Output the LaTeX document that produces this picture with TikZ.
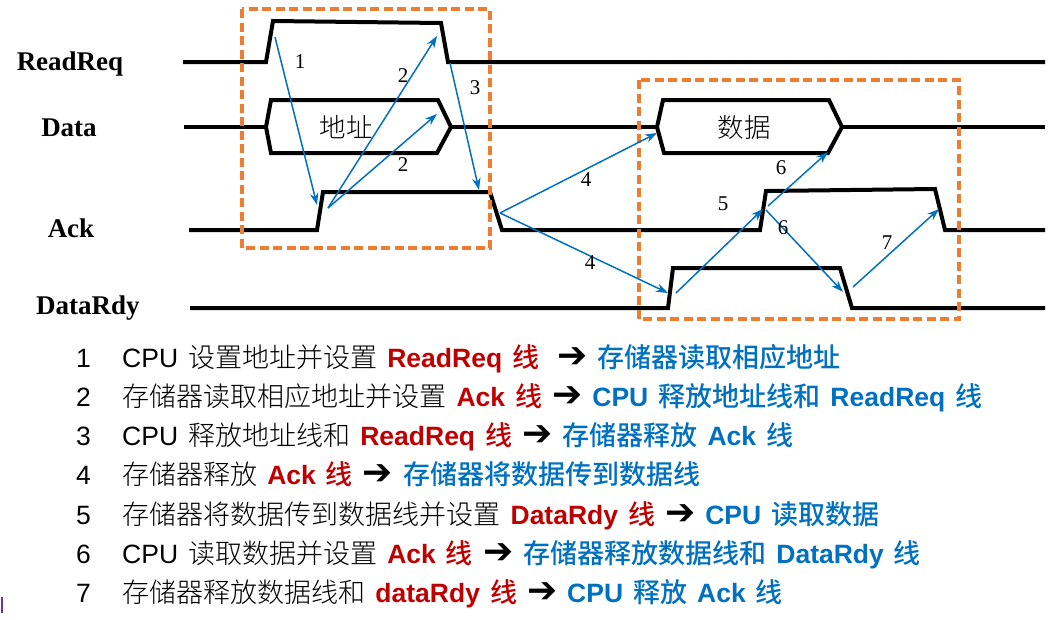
\documentclass[tikz,border=0pt]{standalone}
\usepackage{fontspec}
\usepackage{xcolor}
\usepackage{tikz}
\usetikzlibrary{arrows.meta}

\setmainfont{Liberation Serif}
\newfontfamily\sansf{Liberation Sans}
\newfontfamily\cjkf[Scale=1.02, UprightFont=* Light, BoldFont=* Medium]{Noto Sans CJK SC}
\newfontfamily\symf{DejaVu Sans}

\definecolor{arrowblue}{HTML}{0070C0}
\definecolor{txtred}{HTML}{C00000}
\definecolor{boxorange}{HTML}{ED7D31}
\definecolor{barpurple}{HTML}{7030A0}

\newcommand{\zh}[1]{{\cjkf #1}}
\newcommand{\hl}[2]{{\color{#1}\bfseries #2}}
\newcommand{\rarrow}{{\symf\mdseries\color{black}\fontsize{36}{36}\selectfont ➔}}
\newcommand{\widespaces}{\spaceskip 10pt\relax}

\begin{document}
\begin{tikzpicture}[x=1pt, y=-1pt]

\tikzstyle{wave} = [line width=4pt];
\tikzstyle{arrow} = [-{Stealth[length=12pt,width=8.5pt]}, line width=1.5pt, color=arrowblue];
\tikzstyle{box} = [draw=boxorange, line width=3.5pt, dash pattern=on 9pt off 4.5pt];
\tikzstyle{signal} = [anchor=base, inner sep=0, font=\bfseries\fontsize{27}{30}\selectfont];
\tikzstyle{num} = [inner sep=0, font=\fontsize{21}{24}\selectfont];
\tikzstyle{textline} = [anchor=base west, inner sep=0, font={\sansf\fontsize{26.5}{30}\selectfont\widespaces}];

\useasboundingbox (0,0) rectangle (1061,619);

% signal names
\node(lReadReq) [signal] at (70,70) {ReadReq};
\node(lData) [signal] at (69,136) {Data};
\node(lAck) [signal] at (71,237) {Ack};
\node(lDataRdy) [signal] at (88,314) {DataRdy};

% waveforms
\draw[wave] (183,62) -- (266,62) -- (273,21) -- (441,23) -- (448,62) -- (1045,62);
\draw[wave] (184,127) -- (266,127);
\draw[wave] (266,127) -- (271,100) -- (438,100) -- (451,127) -- (437,153) -- (271,153) -- cycle;
\draw[wave] (451,127) -- (657,127);
\draw[wave] (657,127) -- (663,100) -- (829,100) -- (842,127) -- (828,153) -- (664,153) -- cycle;
\draw[wave] (842,127) -- (1045,127);
\draw[wave] (189,230) -- (317,230) -- (323,192) -- (490,192) -- (502,230) -- (760,230) -- (766,191) -- (935,189) -- (945,230) -- (1045,230);
\draw[wave] (190,308) -- (668,308) -- (673,268) -- (840,268) -- (852,308) -- (1045,308);

\node(addr) [font=\cjkf\fontsize{26}{30}\selectfont] at (346,127) {地址};
\node(dat) [font=\cjkf\fontsize{26}{30}\selectfont] at (744,127) {数据};

% dashed boxes
\draw[box] (242,9) rectangle (490,248);
\draw[box] (639,80) rectangle (959,319);

% arrow end points
\coordinate (a1s) at (275,37);
\coordinate (a1e) at (317,205);
\coordinate (a2s) at (328,208);
\coordinate (a2e) at (437,36);
\coordinate (a2f) at (437,114);
\coordinate (a3s) at (450,63);
\coordinate (a3e) at (479,190);
\coordinate (a4s) at (500,213);
\coordinate (a4e) at (657,133);
\coordinate (a4f) at (668,293);
\coordinate (a5s) at (676,293);
\coordinate (a5e) at (763,209);
\coordinate (a6s) at (768,206);
\coordinate (a6e) at (828,152);
\coordinate (a6t) at (766,210);
\coordinate (a6f) at (843,292);
\coordinate (a7s) at (853,287);
\coordinate (a7e) at (939,209);

\draw [arrow] (a1s) -- (a1e);
\draw [arrow] (a2s) -- (a2e);
\draw [arrow] (a2s) -- (a2f);
\draw [arrow] (a3s) -- (a3e);
\draw [arrow] (a4s) -- (a4e);
\draw [arrow] (a4s) -- (a4f);
\draw [arrow] (a5s) -- (a5e);
\draw [arrow] (a6s) -- (a6e);
\draw [arrow] (a6t) -- (a6f);
\draw [arrow] (a7s) -- (a7e);

\node(n1) [num] at (300,62) {1};
\node(n2a) [num] at (403,76) {2};
\node(n2b) [num] at (403,165) {2};
\node(n3) [num] at (475,88) {3};
\node(n4a) [num] at (586,180) {4};
\node(n4b) [num] at (590,263) {4};
\node(n5) [num] at (723,204) {5};
\node(n6a) [num] at (781,168) {6};
\node(n6b) [num] at (783,228) {6};
\node(n7) [num] at (887,243) {7};

% steps
\node(s1) [textline] at (76,367) {1};
\node(s2) [textline] at (76,406) {2};
\node(s3) [textline] at (76,445) {3};
\node(s4) [textline] at (76,484) {4};
\node(s5) [textline] at (76,524) {5};
\node(s6) [textline] at (76,563) {6};
\node(s7) [textline] at (76,602) {7};

\node(t1) [textline] at (122,367) {CPU \zh{设置地址并设置} \hl{txtred}{ReadReq \zh{线}}\hspace{18pt}\rarrow{} \hl{arrowblue}{\zh{存储器读取相应地址}}};
\node(t2) [textline] at (122,406) {\zh{存储器读取相应地址并设置} \hl{txtred}{Ack \zh{线}} \rarrow{} \hl{arrowblue}{CPU \zh{释放地址线和} ReadReq \zh{线}}};
\node(t3) [textline] at (122,445) {CPU \zh{释放地址线和} \hl{txtred}{ReadReq \zh{线}} \rarrow{} \hl{arrowblue}{\zh{存储器释放} Ack \zh{线}}};
\node(t4) [textline] at (122,484) {\zh{存储器释放} \hl{txtred}{Ack \zh{线}} \rarrow{} \hl{arrowblue}{\zh{存储器将数据传到数据线}}};
\node(t5) [textline] at (122,524) {\zh{存储器将数据传到数据线并设置} \hl{txtred}{DataRdy \zh{线}} \rarrow{} \hl{arrowblue}{CPU \zh{读取数据}}};
\node(t6) [textline] at (122,563) {CPU \zh{读取数据并设置} \hl{txtred}{Ack \zh{线}} \rarrow{} \hl{arrowblue}{\zh{存储器释放数据线和} DataRdy \zh{线}}};
\node(t7) [textline] at (122,602) {\zh{存储器释放数据线和} \hl{txtred}{dataRdy \zh{线}} \rarrow{} \hl{arrowblue}{CPU \zh{释放} Ack \zh{线}}};

\draw[barpurple, line width=1.5pt] (2,597) -- (2,613);

\end{tikzpicture}
\end{document}
